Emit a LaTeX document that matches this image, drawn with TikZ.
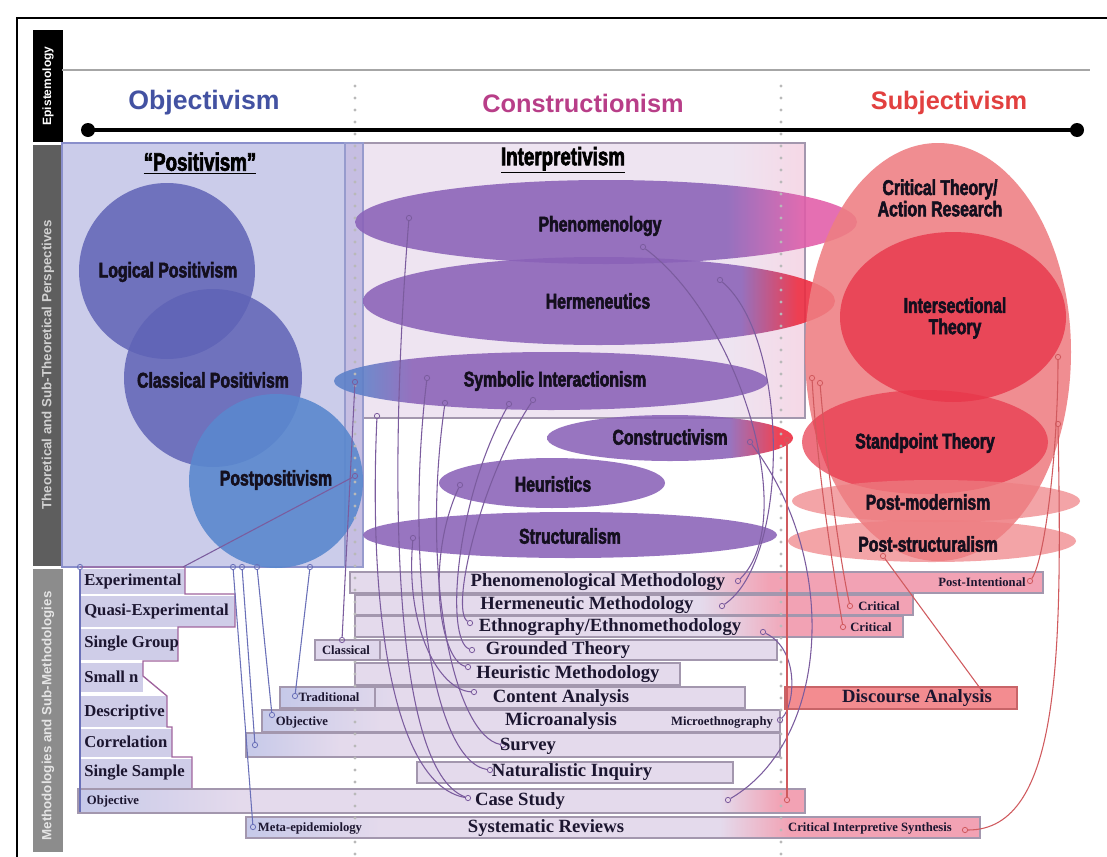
\documentclass[tikz,border=0pt]{standalone}
\usepackage{fontspec}
\setmainfont{Liberation Serif}
\newfontfamily\hsans{Liberation Sans}
\newfontfamily\hsansb{Liberation Sans Bold}
\newfontfamily\condf{Liberation Sans Bold}[FakeStretch=0.74,FakeBold=2.5]
\usetikzlibrary{calc}
\definecolor{posfill}{HTML}{CBCCEA}
\definecolor{posdraw}{HTML}{8A8FCB}
\definecolor{intfill}{HTML}{EEE4F1}
\definecolor{intpink}{HTML}{F6D8E6}
\definecolor{stripc}{HTML}{C6BEE2}
\definecolor{bluec}{HTML}{5F63B6}
\definecolor{postc}{HTML}{5A88CE}
\definecolor{pur}{HTML}{8A62B8}
\definecolor{pinkA}{HTML}{E25CA8}
\definecolor{redA}{HTML}{EC2A3E}
\definecolor{blueE}{HTML}{5C80C8}
\definecolor{redL}{HTML}{EE7E82}
\definecolor{redM}{HTML}{E8364A}
\definecolor{lav}{HTML}{E4DAEC}
\definecolor{barpink}{HTML}{F2A2B4}
\definecolor{bardraw}{HTML}{A397AE}
\definecolor{lblue}{HTML}{C6C9E9}
\definecolor{discfill}{HTML}{F38C90}
\definecolor{discdraw}{HTML}{C86468}
\definecolor{pline}{HTML}{7B5C9E}
\definecolor{rline}{HTML}{D05A5E}
\definecolor{bline}{HTML}{6A70B8}
\definecolor{colfill}{HTML}{CFCDE8}
\definecolor{coldraw}{HTML}{A0649E}
\definecolor{objc}{HTML}{4352A2}
\definecolor{conc}{HTML}{B83E88}
\definecolor{subc}{HTML}{E2403F}
\definecolor{darkt}{HTML}{1C1630}
\definecolor{labt}{HTML}{140F1E}
\pgfdeclarehorizontalshading{phenS}{100bp}{color(0bp)=(pur); color(25bp)=(pur); color(62bp)=(pur); color(70bp)=(pinkA); color(100bp)=(pinkA)}
\pgfdeclarehorizontalshading{hermS}{100bp}{color(0bp)=(pur); color(25bp)=(pur); color(65bp)=(pur); color(71bp)=(redA); color(100bp)=(redA)}
\pgfdeclarehorizontalshading{symbS}{100bp}{color(0bp)=(blueE); color(25bp)=(blueE); color(28bp)=(blueE); color(34bp)=(pur); color(100bp)=(pur)}
\pgfdeclarehorizontalshading{consS}{100bp}{color(0bp)=(pur); color(25bp)=(pur); color(62bp)=(pur); color(72bp)=(redA); color(100bp)=(redA)}
\tikzset{
  sidet/.style={rotate=90, font=\hsansb\fontsize{10}{10}\selectfont},
  headt/.style={font=\hsansb\fontsize{19}{19}\selectfont},
  clab/.style={font=\condf\fontsize{16}{16}\selectfont, text=labt, align=center},
  titlet/.style={font=\condf\fontsize{19}{19}\selectfont, text=black},
  bart/.style={font=\bfseries\fontsize{14}{14}\selectfont, text=darkt, inner sep=0pt},
  smallt/.style={font=\bfseries\fontsize{9.5}{9.5}\selectfont, text=darkt, inner sep=0pt},
  colt/.style={font=\bfseries\fontsize{12.5}{12.5}\selectfont, text=darkt, anchor=west, inner sep=0pt},
  barbox/.style={draw=bardraw, line width=0.9pt},
  pdot/.style={circle, draw=pline, line width=0.6pt, inner sep=0pt, minimum size=4pt},
  bdot/.style={circle, draw=bline, line width=0.6pt, inner sep=0pt, minimum size=4pt},
  rdot/.style={circle, draw=rline, line width=0.6pt, inner sep=0pt, minimum size=4pt},
  pcon/.style={draw=pline, line width=0.8pt},
  bcon/.style={draw=bline, line width=0.8pt},
  rcon/.style={draw=rline, line width=0.8pt},
  dotl/.style={draw=gray!55, line width=2.3pt, line cap=round, dash pattern=on 0pt off 9pt}
}
\begin{document}
\begin{tikzpicture}[x=0.75pt,y=-0.75pt]
\useasboundingbox (0,0) rectangle (1107,857);
\fill[white] (0,0) rectangle (1107,857);
% frame
\draw[line width=1.2pt] (17,857) -- (17,18) -- (1107,18);
% side bars
\fill[black] (33,30) rectangle (63,142);
\fill[black!63] (33,145) rectangle (63,566);
\fill[black!45] (33,569) rectangle (63,852);
\node[sidet, text=white, font=\hsansb\fontsize{9}{9}\selectfont] (epiT) at (48,86) {Epistemology};
\node[sidet, text=black!18] (theT) at (48,365) {Theoretical and Sub-Theoretical Perspectives};
\node[sidet, text=black!10] (metT) at (48,716) {Methodologies and Sub-Methodologies};
% epistemology axis
\draw[gray!70, line width=2pt] (62,70) -- (1090,70);
\draw[black, line width=3.5pt] (88,130) -- (1077,130);
\fill[black] (88,130) circle [radius=7];
\fill[black] (1077,130) circle [radius=7];
\node[headt, text=objc, font=\hsansb\fontsize{20}{20}\selectfont] (objT) at (204,103) {Objectivism};
\node[headt, text=conc] (conT) at (583,103) {Constructionism};
\node[headt, text=subc] (subT) at (949,103) {Subjectivism};
% perspective boxes
\draw[fill=posfill, draw=posdraw, line width=0.8pt] (62,143) rectangle (345,567);
\fill[intfill] (345,143) rectangle (730,418);
\fill[left color=intfill, right color=intpink] (730,143) rectangle (805,418);
\draw[draw=bardraw, line width=0.8pt] (345,143) rectangle (805,418);
\draw[fill=stripc, draw=bline!70, line width=0.8pt] (345,143) rectangle (363,567);
% circles
\fill[bluec, opacity=0.85] (167,271) circle [radius=88];
\fill[bluec, opacity=0.85] (213,378) circle [radius=89];
\fill[postc, opacity=0.9] (276,481) circle [radius=87];
% purple ellipses
\shade[shading=phenS, opacity=0.88] (606,222) ellipse [x radius=251, y radius=42];
\shade[shading=hermS, opacity=0.88] (599,301) ellipse [x radius=236, y radius=44];
\shade[shading=symbS, opacity=0.88] (551,381) ellipse [x radius=217, y radius=29];
\shade[shading=consS, opacity=0.88] (670,438) ellipse [x radius=123, y radius=23];
\fill[pur, opacity=0.88] (552,483) ellipse [x radius=113, y radius=25];
\fill[pur, opacity=0.88] (570,535) ellipse [x radius=207, y radius=23];
% red ellipses
\fill[redL, opacity=0.88] (938,352) ellipse [x radius=133, y radius=209];
\fill[redM, opacity=0.8] (953,317) ellipse [x radius=113, y radius=85];
\fill[redM, opacity=0.7] (925,442) ellipse [x radius=123, y radius=52];
\fill[redL, opacity=0.7] (936,501) ellipse [x radius=144, y radius=21];
\fill[redL, opacity=0.7] (932,541) ellipse [x radius=144, y radius=21];
% left column boxes
\fill[colfill] (80,569) rectangle (185,594);
\fill[colfill] (80,596) rectangle (235,627);
\fill[colfill] (80,629) rectangle (178,660);
\fill[colfill] (80,663) rectangle (143,692);
\fill[colfill] (80,696) rectangle (167,727);
\fill[colfill] (80,729) rectangle (172,757);
\fill[colfill] (80,759) rectangle (192,788);
\draw[coldraw, line width=1pt] (80,567) -- (185,567) -- (185,594) -- (235,594) -- (235,627) -- (178,627) -- (178,661) -- (143,661) -- (143,676) -- (167,696) -- (167,727) -- (172,727) -- (172,757) -- (192,757) -- (192,788);
% methodology bars
\fill[lav] (350,572) rectangle (690,593);
\fill[left color=lav, right color=barpink] (690,572) rectangle (770,593);
\fill[barpink] (770,572) rectangle (1043,593);
\draw[barbox] (350,572) rectangle (1043,593);
\fill[lav] (355,595) rectangle (700,615);
\fill[left color=lav, right color=barpink] (700,595) rectangle (790,615);
\fill[barpink] (790,595) rectangle (913,615);
\draw[barbox] (355,595) rectangle (913,615);
\fill[lav] (355,616) rectangle (720,637);
\fill[left color=lav, right color=barpink] (720,616) rectangle (790,637);
\fill[barpink] (790,616) rectangle (903,637);
\draw[barbox] (355,616) rectangle (903,637);
\draw[barbox, fill=lav] (315,640) rectangle (777,660);
\draw[barbox, fill=lav!85!lblue] (315,640) rectangle (380,660);
\draw[barbox, fill=lav] (355,663) rectangle (680,685);
\fill[lav] (280,687) rectangle (745,708);
\fill[left color=lblue, right color=lav] (280,687) rectangle (400,708);
\draw[barbox] (280,687) rectangle (745,708);
\draw[barbox] (280,687) rectangle (375,708);
\fill[lav] (262,710) rectangle (780,732);
\fill[left color=lblue, right color=lav] (262,710) rectangle (380,732);
\draw[barbox] (262,710) rectangle (780,732);
\fill[lav] (246,733) rectangle (780,757);
\fill[left color=lblue, right color=lav] (246,733) rectangle (340,757);
\draw[barbox] (246,733) rectangle (780,757);
\draw[barbox, fill=lav] (417,762) rectangle (733,783);
\fill[lav] (78,789) rectangle (805,813);
\fill[left color=lblue, right color=lav] (78,789) rectangle (240,813);
\fill[left color=lav, right color=barpink] (720,789) rectangle (780,813);
\fill[barpink] (780,789) rectangle (805,813);
\draw[barbox] (78,789) rectangle (805,813);
\fill[lav] (246,817) rectangle (980,838);
\fill[left color=lblue, right color=lav] (246,817) rectangle (380,838);
\fill[left color=lav, right color=barpink] (720,817) rectangle (790,838);
\fill[barpink] (790,817) rectangle (980,838);
\draw[barbox] (246,817) rectangle (980,838);
\draw[draw=discdraw, fill=discfill, line width=0.9pt] (785,687) rectangle (1017,709);
% dotted separators
\draw[dotl] (355,86) -- (355,857);
\draw[dotl] (781,86) -- (781,857);
% connector end points
\node[pdot] (phA) at (409,218) {};
\node[pdot] (phB) at (643,247) {};
\node[pdot] (hrA) at (720,280) {};
\node[pdot] (syL) at (355,382) {};
\node[pdot] (syA) at (427,378) {};
\node[pdot] (syB) at (445,403) {};
\node[pdot] (syC) at (509,404) {};
\node[pdot] (syD) at (533,400) {};
\node[pdot] (ipA) at (377,416) {};
\node[pdot] (coA) at (750,442) {};
\node[pdot] (heA) at (460,485) {};
\node[pdot] (stA) at (413,538) {};
\node[pdot] (ppA) at (355,476) {};
\node[pdot] (pmR) at (738,581) {};
\node[pdot] (hmR) at (722,606) {};
\node[pdot] (etL) at (470,623) {};
\node[pdot] (etR) at (763,632) {};
\node[pdot] (clA) at (342,640) {};
\node[pdot] (gtL) at (472,650) {};
\node[pdot] (hmL) at (468,667) {};
\node[pdot] (caL) at (474,692) {};
\node[pdot] (meR) at (780,720) {};
\node[pdot] (svL) at (503,745) {};
\node[pdot] (niL) at (490,770) {};
\node[pdot] (csL) at (468,798) {};
\node[pdot] (csR) at (728,800) {};
\coordinate (exC) at (183,567);
\node[bdot] (b0) at (80,567) {};
\coordinate (b0e) at (80,812);
\node[bdot] (b1) at (233,567) {};
\node[bdot] (b2) at (242,567) {};
\node[bdot] (b3) at (257,567) {};
\node[bdot] (b4) at (310,567) {};
\node[bdot] (mtL) at (253,827) {};
\node[bdot] (svB) at (255,745) {};
\node[bdot] (obL) at (272,715) {};
\node[bdot] (trL) at (295,696) {};
\node[rdot] (r1) at (812,378) {};
\node[rdot] (r2) at (820,383) {};
\node[rdot] (r3) at (1058,357) {};
\node[rdot] (r4) at (1058,424) {};
\node[rdot] (psA) at (883,556) {};
\node[rdot] (coR) at (787,440) {};
\node[rdot] (cs2) at (787,800) {};
\node[rdot] (cr1) at (850,606) {};
\node[rdot] (cr2) at (843,627) {};
\node[rdot] (piR) at (1030,581) {};
\node[rdot] (daR) at (988,699) {};
\node[rdot] (cisR) at (965,830) {};
% purple connectors
\draw[pcon] (phA) .. controls (388,480) and (392,770) .. (csL);
\draw[pcon] (ipA) .. controls (368,620) and (395,785) .. (csL);
\draw[pcon] (syA) .. controls (405,560) and (430,760) .. (niL);
\draw[pcon] (syB) .. controls (420,580) and (455,735) .. (svL);
\draw[pcon] (syC) .. controls (455,500) and (445,640) .. (gtL);
\draw[pcon] (syD) .. controls (480,480) and (450,610) .. (etL);
\draw[pcon] (heA) .. controls (425,560) and (440,660) .. (hmL);
\draw[pcon] (stA) .. controls (405,630) and (440,690) .. (caL);
\draw[pcon] (phB) .. controls (740,320) and (800,520) .. (pmR);
\draw[pcon] (hrA) .. controls (790,340) and (790,560) .. (hmR);
\draw[pcon] (coA) .. controls (840,560) and (830,740) .. (csR);
\draw[pcon] (etR) .. controls (800,650) and (795,705) .. (meR);
\draw[pcon] (syL) -- (clA);
\draw[pcon] (ppA) -- (exC);
% blue connectors
\draw[bcon] (b0) -- (b0e);
\draw[bcon] (b1) -- (mtL);
\draw[bcon] (b2) -- (svB);
\draw[bcon] (b3) -- (obL);
\draw[bcon] (b4) -- (trL);
% red connectors
\draw[rcon] (r1) .. controls (818,480) and (835,580) .. (cr2);
\draw[rcon] (r2) .. controls (828,480) and (842,570) .. (cr1);
\draw[rcon] (r3) .. controls (1058,450) and (1045,560) .. (piR);
\draw[rcon] (r4) .. controls (1062,650) and (1062,830) .. (cisR);
\draw[rcon] (psA) -- (daR);
\draw[rcon] (coR) -- (cs2);
% perspective labels
\node[titlet] (posT) at (200,163) {\underline{“Positivism”}};
\node[titlet] (intT) at (563,160) {\underline{Interpretivism}};
\node[clab] (lpT) at (168,272) {Logical Positivism};
\node[clab] (cpT) at (213,380) {Classical Positivism};
\node[clab] (ppT) at (276,480) {Postpositivism};
\node[clab] (phT) at (600,226) {Phenomenology};
\node[clab] (hrT) at (598,301) {Hermeneutics};
\node[clab] (syT) at (555,381) {Symbolic Interactionism};
\node[clab] (coT) at (670,437) {Constructivism};
\node[clab] (heT) at (553,484) {Heuristics};
\node[clab] (stT) at (570,536) {Structuralism};
\node[clab] (ctT) at (940,198) {Critical Theory/\\Action Research};
\node[clab] (itT) at (955,318) {Intersectional\\Theory};
\node[clab] (spT) at (925,443) {Standpoint Theory};
\node[clab] (pmT) at (928,502) {Post-modernism};
\node[clab] (psT) at (928,544) {Post-structuralism};
% left column labels
\node[colt] (exT) at (84,581) {Experimental};
\node[colt] (qeT) at (84,611) {Quasi-Experimental};
\node[colt] (sgT) at (84,644) {Single Group};
\node[colt] (snT) at (84,677) {Small n};
\node[colt] (deT) at (84,712) {Descriptive};
\node[colt] (crT) at (84,742) {Correlation};
\node[colt] (ssT) at (84,773) {Single Sample};
% bar labels
\node[bart] (pmT2) at (598,582) {Phenomenological Methodology};
\node[bart] (hmT2) at (587,605) {Hermeneutic Methodology};
\node[bart] (etT2) at (610,627) {Ethnography/Ethnomethodology};
\node[bart] (gtT2) at (558,650) {Grounded Theory};
\node[bart] (hmT3) at (568,674) {Heuristic Methodology};
\node[bart] (caT2) at (561,698) {Content Analysis};
\node[bart] (maT2) at (561,721) {Microanalysis};
\node[bart] (svT2) at (528,746) {Survey};
\node[bart] (niT2) at (572,772) {Naturalistic Inquiry};
\node[bart] (csT2) at (520,801) {Case Study};
\node[bart] (srT2) at (546,828) {Systematic Reviews};
\node[bart] (daT2) at (917,698) {Discourse Analysis};
\node[smallt] (piT) at (982,582) {Post-Intentional};
\node[smallt] (cr1T) at (879,606) {Critical};
\node[smallt] (cr2T) at (871,627) {Critical};
\node[smallt] (clT) at (346,650) {Classical};
\node[smallt] (trT) at (329,697) {Traditional};
\node[smallt] (obT) at (302,722) {Objective};
\node[smallt] (mgT) at (722,722) {Microethnography};
\node[smallt] (ob2T) at (113,801) {Objective};
\node[smallt] (mtT) at (310,828) {Meta-epidemiology};
\node[smallt] (cisT) at (870,828) {Critical Interpretive Synthesis};
\end{tikzpicture}
\end{document}
